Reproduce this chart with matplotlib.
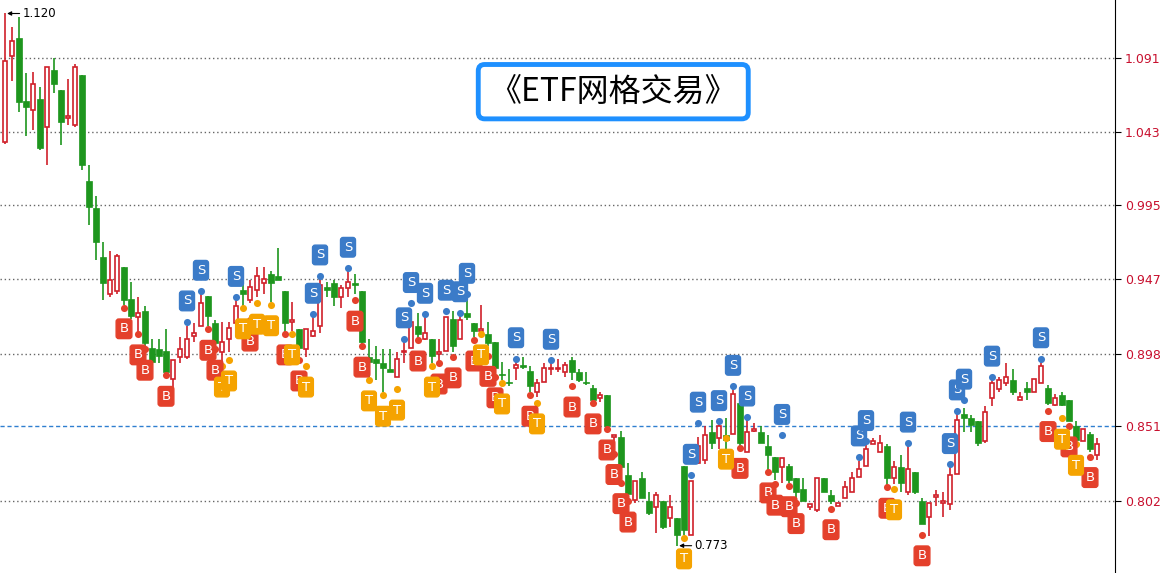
import numpy as np
import matplotlib.pyplot as plt

plt.rcParams['font.family'] = ['DejaVu Sans']

# daily candles: open, high, low, close
opens = [1.036, 1.092, 1.104, 1.063, 1.057, 1.064, 1.046, 1.083, 1.070, 1.052,
         1.047, 1.080, 1.011, 0.993, 0.961, 0.937, 0.939, 0.955, 0.934, 0.922,
         0.926, 0.902, 0.901, 0.900, 0.882, 0.896, 0.896, 0.910, 0.916, 0.936,
         0.918, 0.899, 0.908, 0.918, 0.940, 0.933, 0.940, 0.944, 0.950, 0.949,
         0.939, 0.919, 0.914, 0.901, 0.910, 0.916, 0.942, 0.944, 0.935, 0.941,
         0.944, 0.939, 0.896, 0.895, 0.892, 0.888, 0.883, 0.899, 0.902, 0.916,
         0.908, 0.908, 0.898, 0.900, 0.921, 0.908, 0.925, 0.918, 0.913, 0.911,
         0.906, 0.885, 0.880, 0.889, 0.8905, 0.887, 0.873, 0.880, 0.8885, 0.8885,
         0.886, 0.894, 0.886, 0.880, 0.876, 0.869, 0.871, 0.844, 0.844, 0.819,
         0.803, 0.817, 0.802, 0.798, 0.802, 0.791, 0.791, 0.825, 0.780, 0.827,
         0.829, 0.847, 0.843, 0.845, 0.846, 0.866, 0.834, 0.848, 0.847, 0.838,
         0.831, 0.824, 0.825, 0.817, 0.810, 0.798, 0.796, 0.817, 0.806, 0.799,
         0.804, 0.808, 0.818, 0.825, 0.839, 0.834, 0.838, 0.817, 0.824, 0.808,
         0.821, 0.802, 0.792, 0.805, 0.801, 0.800, 0.820, 0.859, 0.856, 0.854,
         0.841, 0.869, 0.875, 0.879, 0.881, 0.868, 0.876, 0.873, 0.879, 0.876,
         0.865, 0.871, 0.868, 0.851, 0.841, 0.846, 0.832]
highs = [1.120, 1.111, 1.118, 1.081, 1.082, 1.072, 1.085, 1.091, 1.070, 1.077,
         1.087, 1.080, 1.021, 1.001, 0.971, 0.965, 0.963, 0.955, 0.945, 0.935,
         0.929, 0.908, 0.908, 0.914, 0.894, 0.909, 0.916, 0.918, 0.939, 0.936,
         0.920, 0.919, 0.919, 0.933, 0.948, 0.946, 0.955, 0.955, 0.952, 0.967,
         0.939, 0.932, 0.914, 0.914, 0.922, 0.948, 0.945, 0.946, 0.943, 0.952,
         0.950, 0.939, 0.908, 0.903, 0.901, 0.901, 0.899, 0.909, 0.927, 0.925,
         0.923, 0.908, 0.908, 0.922, 0.926, 0.924, 0.937, 0.918, 0.930, 0.919,
         0.906, 0.893, 0.888, 0.896, 0.896, 0.890, 0.882, 0.892, 0.893, 0.895,
         0.893, 0.896, 0.888, 0.886, 0.878, 0.873, 0.871, 0.845, 0.848, 0.827,
         0.815, 0.821, 0.808, 0.808, 0.802, 0.806, 0.791, 0.825, 0.815, 0.844,
         0.851, 0.855, 0.855, 0.856, 0.875, 0.866, 0.856, 0.853, 0.851, 0.845,
         0.831, 0.830, 0.826, 0.817, 0.817, 0.800, 0.817, 0.817, 0.809, 0.801,
         0.815, 0.821, 0.828, 0.843, 0.843, 0.845, 0.839, 0.828, 0.832, 0.838,
         0.821, 0.804, 0.801, 0.809, 0.808, 0.825, 0.860, 0.863, 0.858, 0.854,
         0.864, 0.884, 0.883, 0.892, 0.888, 0.873, 0.880, 0.882, 0.894, 0.878,
         0.872, 0.873, 0.868, 0.854, 0.849, 0.847, 0.843]
lows = [1.035, 1.076, 1.056, 1.040, 1.044, 1.031, 1.021, 1.068, 1.034, 1.047,
        1.046, 1.018, 0.982, 0.959, 0.933, 0.935, 0.937, 0.930, 0.921, 0.909,
        0.903, 0.891, 0.892, 0.886, 0.875, 0.892, 0.895, 0.906, 0.916, 0.916,
        0.903, 0.892, 0.899, 0.917, 0.929, 0.931, 0.935, 0.937, 0.932, 0.946,
        0.911, 0.913, 0.896, 0.896, 0.909, 0.912, 0.935, 0.929, 0.928, 0.935,
        0.937, 0.901, 0.883, 0.881, 0.873, 0.886, 0.883, 0.892, 0.902, 0.907,
        0.907, 0.892, 0.890, 0.900, 0.899, 0.908, 0.920, 0.909, 0.913, 0.903,
        0.881, 0.881, 0.877, 0.881, 0.888, 0.873, 0.870, 0.880, 0.884, 0.886,
        0.883, 0.881, 0.880, 0.878, 0.867, 0.867, 0.850, 0.840, 0.823, 0.806,
        0.801, 0.804, 0.793, 0.781, 0.784, 0.785, 0.773, 0.780, 0.780, 0.826,
        0.826, 0.836, 0.836, 0.836, 0.846, 0.838, 0.834, 0.847, 0.840, 0.819,
        0.816, 0.814, 0.814, 0.803, 0.802, 0.796, 0.795, 0.808, 0.800, 0.799,
        0.804, 0.808, 0.818, 0.825, 0.839, 0.834, 0.811, 0.813, 0.808, 0.806,
        0.807, 0.787, 0.779, 0.799, 0.792, 0.796, 0.820, 0.847, 0.847, 0.838,
        0.840, 0.864, 0.873, 0.877, 0.871, 0.868, 0.868, 0.873, 0.879, 0.865,
        0.864, 0.864, 0.854, 0.841, 0.841, 0.834, 0.829]
closes = [1.089, 1.102, 1.062, 1.059, 1.074, 1.032, 1.085, 1.074, 1.049, 1.053,
          1.085, 1.021, 0.994, 0.971, 0.944, 0.946, 0.962, 0.933, 0.923, 0.925,
          0.905, 0.893, 0.897, 0.886, 0.894, 0.901, 0.908, 0.912, 0.931, 0.923,
          0.905, 0.906, 0.915, 0.929, 0.937, 0.942, 0.949, 0.947, 0.944, 0.946,
          0.918, 0.920, 0.902, 0.914, 0.913, 0.943, 0.940, 0.935, 0.941, 0.945,
          0.943, 0.906, 0.893, 0.892, 0.889, 0.886, 0.895, 0.900, 0.919, 0.911,
          0.912, 0.897, 0.899, 0.922, 0.903, 0.920, 0.922, 0.913, 0.914, 0.905,
          0.889, 0.884, 0.879, 0.891, 0.8895, 0.877, 0.879, 0.889, 0.889, 0.889,
          0.891, 0.886, 0.881, 0.879, 0.868, 0.871, 0.851, 0.845, 0.824, 0.807,
          0.815, 0.804, 0.794, 0.806, 0.785, 0.798, 0.780, 0.783, 0.815, 0.838,
          0.845, 0.840, 0.851, 0.842, 0.872, 0.840, 0.847, 0.849, 0.840, 0.832,
          0.821, 0.830, 0.816, 0.808, 0.802, 0.800, 0.817, 0.808, 0.802, 0.801,
          0.811, 0.817, 0.823, 0.836, 0.841, 0.840, 0.817, 0.824, 0.814, 0.823,
          0.808, 0.787, 0.801, 0.806, 0.802, 0.819, 0.855, 0.856, 0.852, 0.840,
          0.860, 0.879, 0.881, 0.883, 0.873, 0.870, 0.873, 0.882, 0.890, 0.866,
          0.869, 0.865, 0.854, 0.842, 0.849, 0.836, 0.839]

# grid signals: candle index and marker price
sell_idx = [26, 28, 33, 44, 45, 49, 57, 58, 60, 63, 65, 66, 73, 78, 98, 99, 102,
            104, 106, 111, 122, 123, 129, 135, 136, 137, 141, 148]
sell_px = [0.919, 0.939, 0.935, 0.924, 0.949, 0.954, 0.908, 0.931, 0.924, 0.926,
           0.925, 0.937, 0.895, 0.894, 0.819, 0.853, 0.854, 0.877, 0.857, 0.845,
           0.831, 0.841, 0.840, 0.826, 0.861, 0.868, 0.883, 0.895]
buy_idx = [17, 19, 20, 23, 29, 30, 35, 40, 42, 50, 51, 59, 62, 64, 67, 69, 70,
           75, 81, 84, 86, 87, 88, 89, 105, 109, 110, 112, 113, 118, 126, 131,
           149, 152, 155]
buy_px = [0.928, 0.911, 0.901, 0.884, 0.914, 0.901, 0.920, 0.911, 0.894, 0.933,
          0.903, 0.907, 0.892, 0.896, 0.907, 0.897, 0.883, 0.871, 0.877, 0.866,
          0.849, 0.833, 0.814, 0.802, 0.837, 0.821, 0.813, 0.812, 0.801, 0.797,
          0.811, 0.780, 0.861, 0.851, 0.831]
take_idx = [31, 32, 34, 36, 38, 41, 43, 52, 54, 56, 61, 68, 71, 76, 97, 103, 127,
            151, 153]
take_px = [0.890, 0.894, 0.928, 0.931, 0.930, 0.911, 0.890, 0.881, 0.871, 0.875,
           0.890, 0.911, 0.879, 0.866, 0.778, 0.843, 0.810, 0.856, 0.839]

yticks = [0.802, 0.851, 0.898, 0.947, 0.995, 1.043, 1.091]

UP = '#d0202a'
DOWN = '#1e961e'
S_COL = '#3b7bc8'
B_COL = '#e4402b'
T_COL = '#f5a300'

o = np.array(opens)
h = np.array(highs)
l = np.array(lows)
c = np.array(closes)
x = np.arange(len(o))
up = c >= o

fig = plt.figure(figsize=(11.7, 5.73), dpi=100)
ax = fig.add_axes([0, 0, 0.953, 1])

for yt in yticks:
    if yt == 0.851:
        ax.axhline(yt, color='#2f7fd0', lw=1, ls=(0, (3, 2)), zorder=0)
    else:
        ax.axhline(yt, color='#666666', lw=1, ls=(0, (1, 2)), zorder=0)

cols = np.where(up, UP, DOWN)
ax.vlines(x, l, h, colors=cols, lw=1.2, zorder=2)
bottom = np.minimum(o, c)
height = np.maximum(np.abs(c - o), 0.0004)
ax.bar(x[up], height[up], bottom=bottom[up], width=0.7, facecolor='white',
       edgecolor=UP, lw=1.2, zorder=3)
ax.bar(x[~up], height[~up], bottom=bottom[~up], width=0.75, facecolor=DOWN,
       edgecolor=DOWN, lw=0.5, zorder=3)


def signals(idx, px, color, letter, dy):
    ax.scatter(idx, px, s=26, color=color, zorder=5, linewidths=0)
    for i, p in zip(idx, px):
        ax.annotate(letter, (i, p), xytext=(0, dy), textcoords='offset points',
                    ha='center', va='center', color='white', fontsize=9.5,
                    zorder=6,
                    bbox=dict(boxstyle='round,pad=0.25,rounding_size=0.2',
                              fc=color, ec=color))


signals(sell_idx, sell_px, S_COL, 'S', 15)
signals(buy_idx, buy_px, B_COL, 'B', -15)
signals(take_idx, take_px, T_COL, 'T', -15)

# extreme labels
hi_i = int(np.argmax(h))
lo_i = int(np.argmin(l))
for i, p in [(hi_i, h[hi_i]), (lo_i, l[lo_i])]:
    ax.annotate(f'{p:.3f}', (i + 0.3, p), xytext=(11, 0),
                textcoords='offset points', va='center', ha='left', fontsize=8.5,
                arrowprops=dict(arrowstyle='-|>', color='black', lw=0.8,
                                mutation_scale=6, shrinkA=0, shrinkB=0))

ax.text(0.55, 0.84, '《ETF网格交易》', transform=ax.transAxes, ha='center',
        va='center', fontsize=23, family=['Noto Sans CJK SC', 'DejaVu Sans'],
        bbox=dict(boxstyle='round,pad=0.35,rounding_size=0.2', fc='white',
                  ec='#1e90ff', lw=3.5), zorder=7)

ax.set_xlim(-0.714, 158.57)
ax.set_ylim(0.7552, 1.1288)
ax.yaxis.tick_right()
ax.set_yticks(yticks)
ax.set_yticklabels([f'{v:.3f}' for v in yticks], color='#c8102e', fontsize=9)
ax.tick_params(axis='y', length=4, color='black', pad=3)
ax.set_xticks([])
for side in ['top', 'left', 'bottom']:
    ax.spines[side].set_visible(False)
ax.spines['right'].set_color('black')

fig.savefig('out.png', dpi=100)
